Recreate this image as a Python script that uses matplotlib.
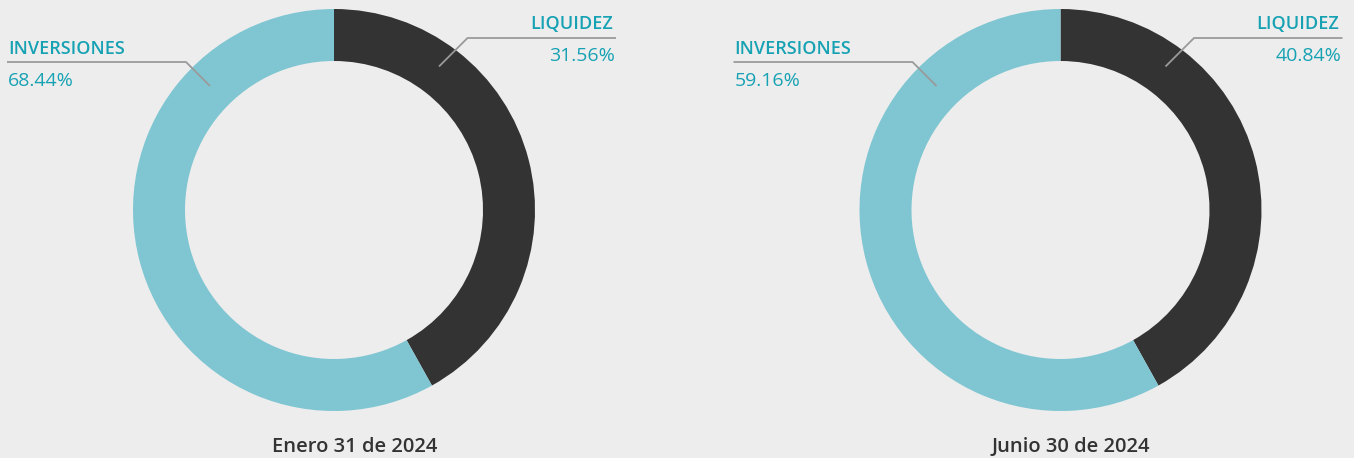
import matplotlib
matplotlib.use("Agg")
import matplotlib.pyplot as plt

# Data
categories = ["LIQUIDEZ", "INVERSIONES"]
dates = ["Enero 31 de 2024", "Junio 30 de 2024"]
label_liquidez = [31.56, 40.84]
label_inversiones = [68.44, 59.16]
# shares as actually drawn in the reference rings
drawn_liquidez = [41.9, 41.9]
drawn_inversiones = [58.1, 58.1]

BG = "#EDEDED"
DARK = "#333333"
LIGHT = "#7FC6D2"
TEAL = "#17A2B4"
LINE = "#9A9A9A"
TITLE = "#333333"

W, H = 1354, 458
fig = plt.figure(figsize=(W / 100, H / 100), dpi=100, facecolor=BG)
ax = fig.add_axes([0, 0, 1, 1])
ax.set_facecolor(BG)

FONT = "Open Sans"
TFONT = "Open Sans"

def py(y):
    return H - y

centers = [(334, 210), (1060.5, 210)]
offsets = [0, 726.5]

for i in range(2):
    cx, cy = centers[i]
    dx = offsets[i]
    ax.pie([drawn_liquidez[i], drawn_inversiones[i]], colors=[DARK, LIGHT],
           startangle=90, counterclock=False, radius=201, center=(cx, py(cy)),
           wedgeprops=dict(width=52, linewidth=0), frame=True)
    # Liquidez leader
    ax.plot([439 + dx, 467.5 + dx, 616 + dx], [py(66.5), py(38), py(38)],
            color=LINE, lw=1.3, solid_capstyle="butt")
    ax.text(613 + dx, py(29), categories[0], ha="right", va="baseline",
            fontsize=13, fontweight="semibold", color=TEAL, family=FONT)
    ax.text(615 + dx, py(61), f"{label_liquidez[i]:.2f}%", ha="right", va="baseline",
            fontsize=14, color=TEAL, family=FONT)
    # Inversiones leader
    ax.plot([7 + dx, 186 + dx, 210 + dx], [py(62), py(62), py(86)],
            color=LINE, lw=1.3, solid_capstyle="butt")
    ax.text(8 + dx, py(54), categories[1], ha="left", va="baseline",
            fontsize=13, fontweight="semibold", color=TEAL, family=FONT)
    ax.text(8 + dx, py(85.5), f"{label_inversiones[i]:.2f}%", ha="left", va="baseline",
            fontsize=14, color=TEAL, family=FONT)

ax.set_xlim(0, W)
ax.set_ylim(0, H)
ax.set_aspect("equal")
ax.axis("off")

ax.text(354.5, py(452.5), dates[0], ha="center", va="baseline", fontsize=14.5,
        fontweight="semibold", color=TITLE, family=TFONT)
ax.text(1070.5, py(452.5), dates[1], ha="center", va="baseline", fontsize=14.5,
        fontweight="semibold", color=TITLE, family=TFONT)

fig.savefig("out.png", dpi=100, facecolor=BG)
